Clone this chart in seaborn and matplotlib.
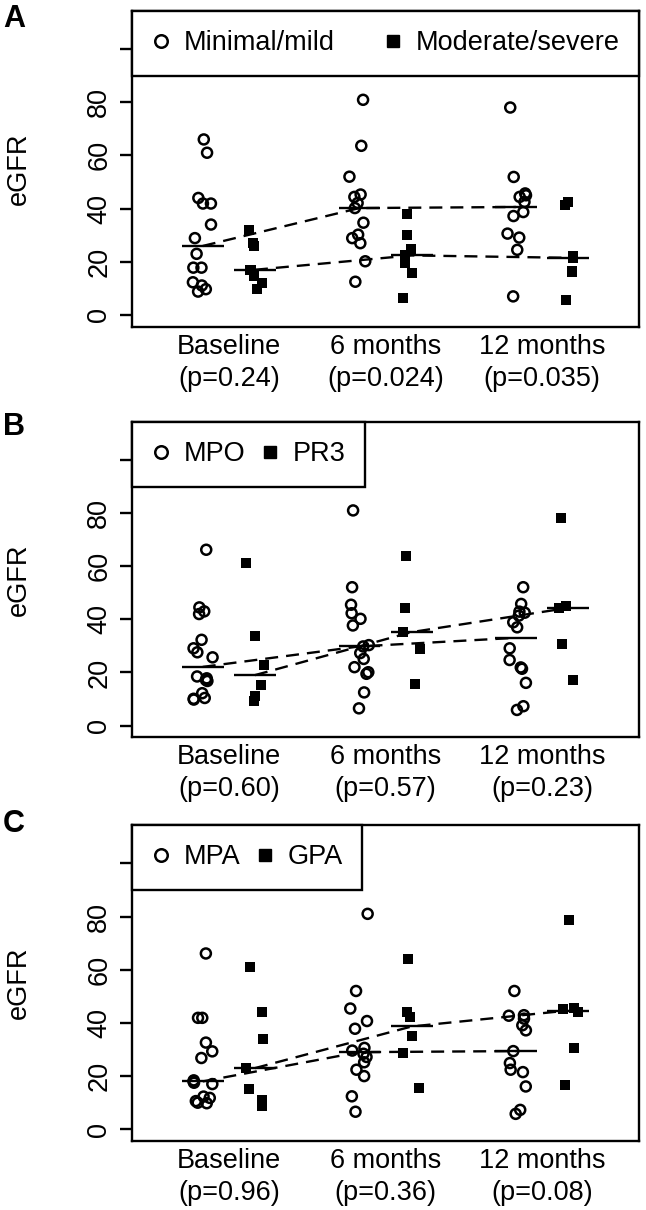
import numpy as np
import pandas as pd
import matplotlib
matplotlib.use("Agg")
import matplotlib.pyplot as plt
import seaborn as sns
from matplotlib.lines import Line2D

sns.set_style("ticks")
plt.rcParams['font.family'] = ['Liberation Sans', 'DejaVu Sans']
for key in ["text.color", "axes.labelcolor", "xtick.color", "ytick.color", "axes.edgecolor"]:
    plt.rcParams[key] = "black"

timepoints = ["Baseline", "6 months", "12 months"]

# ---------------- Panel A ----------------
A_groups = ["Minimal/mild", "Moderate/severe"]
A_g1_base = [66.0, 61.0, 44.0, 41.9, 41.9, 34.0, 28.9, 23.0, 17.8, 17.8, 12.3, 11.1, 9.7, 8.8]
A_g2_base = [31.8, 27.0, 26.0, 17.0, 17.0, 14.8, 11.9, 9.8]
A_g1_6m = [80.9, 63.6, 52.0, 45.3, 44.4, 42.1, 40.2, 34.7, 30.2, 28.9, 27.0, 20.2, 12.5]
A_g2_6m = [37.9, 30.2, 24.9, 22.4, 19.6, 15.7, 6.5]
A_g1_12m = [78.0, 51.9, 45.7, 45.0, 44.4, 42.5, 38.7, 37.2, 30.6, 29.1, 24.5, 7.0]
A_g2_12m = [42.5, 41.2, 22.3, 21.5, 16.7, 16.1, 5.7]
A_pvalues = ["0.24", "0.024", "0.035"]

# ---------------- Panel B ----------------
B_groups = ["MPO", "PR3"]
B_g1_base = [66.2, 44.5, 43.0, 42.0, 32.3, 29.1, 27.6, 25.7, 18.5, 17.8, 17.2, 16.8, 12.2, 10.4, 10.1, 9.8]
B_g2_base = [61.2, 33.9, 22.9, 15.1, 11.3, 9.4]
B_g1_6m = [81.0, 52.1, 45.5, 42.3, 40.2, 37.7, 30.3, 29.8, 27.3, 25.1, 22.0, 20.1, 19.5, 12.5, 6.5]
B_g2_6m = [63.8, 44.3, 35.2, 28.9, 15.7]
B_g1_12m = [52.1, 45.8, 42.9, 42.5, 41.4, 38.9, 37.0, 29.1, 24.7, 21.9, 21.4, 16.1, 7.3, 5.9]
B_g2_12m = [78.1, 45.2, 44.3, 30.8, 17.0]
B_pvalues = ["0.60", "0.57", "0.23"]

# ---------------- Panel C ----------------
C_groups = ["MPA", "GPA"]
C_g1_base = [66.1, 41.9, 41.9, 32.6, 29.3, 26.8, 18.4, 18.0, 17.5, 17.0, 12.3, 11.8, 10.6, 10.0, 9.8]
C_g2_base = [61.1, 44.1, 34.1, 23.0, 15.2, 11.1, 8.9]
C_g1_6m = [81.0, 52.0, 45.4, 40.7, 37.8, 30.6, 29.6, 28.4, 27.2, 25.2, 22.4, 20.0, 12.4, 6.6]
C_g2_6m = [63.9, 44.1, 42.2, 35.1, 28.8, 15.6]
C_g1_12m = [52.0, 42.9, 42.7, 41.6, 39.1, 37.2, 29.4, 24.9, 22.4, 21.5, 16.1, 7.3, 5.8]
C_g2_12m = [78.5, 45.6, 45.2, 44.1, 30.7, 16.8]
C_pvalues = ["0.96", "0.36", "0.08"]

y_ticks = [0, 20, 40, 60, 80, 100]
y_ticklabels = ["0", "20", "40", "60", "80", ""]


def build_df(g1, g2):
    rows = []
    for t, (a, b) in enumerate(zip(g1, g2)):
        for v in a:
            rows.append((t, 0, v))
        for v in b:
            rows.append((t, 1, v))
    df = pd.DataFrame(rows, columns=["time", "group", "eGFR"])
    df["pos"] = 3 * df["time"] + 1 + df["group"]
    return df


panels = [
    ("A", A_groups, build_df([A_g1_base, A_g1_6m, A_g1_12m], [A_g2_base, A_g2_6m, A_g2_12m]), A_pvalues, True),
    ("B", B_groups, build_df([B_g1_base, B_g1_6m, B_g1_12m], [B_g2_base, B_g2_6m, B_g2_12m]), B_pvalues, False),
    ("C", C_groups, build_df([C_g1_base, C_g1_6m, C_g1_12m], [C_g2_base, C_g2_6m, C_g2_12m]), C_pvalues, False),
]

W, H, DPI = 646, 1210, 100
fig = plt.figure(figsize=(W / DPI, H / DPI), dpi=DPI)

# axes frames in pixels (left, top, right, bottom)
frames = [(131.7, 10.7, 639.3, 326.7), (131.7, 421.7, 639.3, 737.3), (131.7, 825.0, 639.3, 1141.0)]
letter_y = [19, 427, 824]

FS = 19.5
LW = 1.7
np.random.seed(3)

for (letter, groups, df, pvals, wide), (l, t, r, b), ly in zip(panels, frames, letter_y):
    ax = fig.add_axes([l / W, 1 - b / H, (r - l) / W, (b - t) / H])
    styles = [dict(marker="o", size=7.2, facecolor="none", edgecolor="black", linewidth=1.8),
              dict(marker="s", size=7.0, edgecolor="black", linewidth=0)]
    for g in (0, 1):
        sub = df[df["group"] == g]
        sns.stripplot(data=sub, x="pos", y="eGFR", native_scale=True, orient="x",
                      jitter=0.2 / 3, color="black", ax=ax, zorder=3, **styles[g])
    for g in (0, 1):
        sub = df[df["group"] == g]
        med = sub.groupby("pos")["eGFR"].median()
        ax.hlines(med.values, med.index - 0.4, med.index + 0.4, color="black", lw=LW, zorder=4)
        sns.lineplot(data=sub, x="pos", y="eGFR", estimator="median", errorbar=None,
                     color="black", lw=LW, ax=ax, zorder=4)
        ax.lines[-1].set_linestyle((0, (5.5, 3.4)))

    ax.set_xlim(-0.36, 9.36)
    ax.set_ylim(-4.4, 114.4)
    ax.set_yticks(y_ticks)
    ax.set_yticklabels(y_ticklabels, rotation=90, va="center", fontsize=FS)
    ax.set_xticks([1.5, 4.5, 7.5])
    ax.set_xticklabels([f"{tp}\n(p={p})" for tp, p in zip(timepoints, pvals)], fontsize=FS,
                       linespacing=1.3)
    ax.tick_params(axis="x", length=0, pad=5, colors="black")
    ax.tick_params(axis="y", length=9, width=LW, pad=5, direction="out", colors="black")
    for s in ax.spines.values():
        s.set_visible(True)
        s.set_linewidth(LW)
        s.set_color("black")
    ax.set_xlabel("")
    ax.set_ylabel("eGFR", fontsize=FS, color="black")
    ax.yaxis.set_label_coords((32 - l) / (r - l), 0.5)

    handles = [Line2D([], [], marker="o", ls="none", mfc="none", mec="black", mew=1.8, ms=9),
               Line2D([], [], marker="s", ls="none", mfc="black", mec="black", ms=8)]
    leg_kw = dict(loc="upper left", bbox_to_anchor=(0, 1), borderaxespad=0, ncol=2,
                  fontsize=FS, handlelength=0.7, handletextpad=0.5, fancybox=False,
                  edgecolor="black", framealpha=1, borderpad=0.65, columnspacing=0.55,
                  labelcolor="black")
    leg = ax.legend(handles, groups, **leg_kw)
    fig.canvas.draw()
    fs_px = FS * DPI / 72
    bb = leg.get_window_extent()
    target_h = (b - t) * (114.4 - 90) / (114.4 + 4.4)
    leg_kw["borderpad"] = 0.65 + (target_h - bb.height) / 2 / fs_px
    if wide:
        extra = (r - l) - bb.width - 2 * (leg_kw["borderpad"] - 0.65) * fs_px
        leg_kw["columnspacing"] = 0.55 + extra / fs_px
    leg.remove()
    leg = ax.legend(handles, groups, **leg_kw)
    leg.get_frame().set_linewidth(LW)

    fig.text(14 / W, 1 - ly / H, letter, fontsize=22, fontweight="bold", ha="center", va="center",
             color="black")

fig.savefig("out.png", dpi=DPI)
